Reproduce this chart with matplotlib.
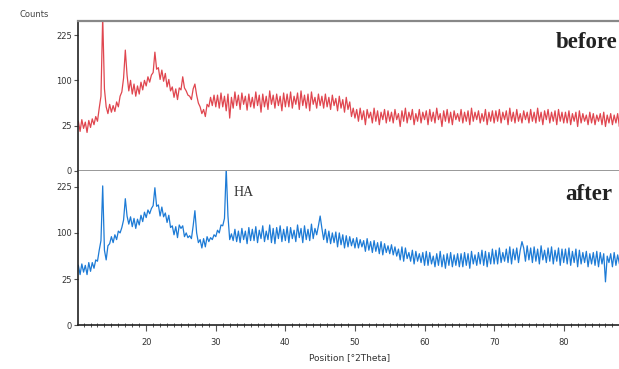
import matplotlib.pyplot as plt
import numpy as np
from matplotlib.ticker import MultipleLocator

# XRD counts, one value every 0.25 deg starting at 10.25
start_2theta = 10.25
step_2theta = 0.25

before_counts = [
    30, 19, 32, 22, 29, 18, 31, 23, 33, 26, 36, 30, 48, 68, 290, 82, 50, 40, 54, 42,
    52, 43, 58, 50, 68, 76, 105, 178, 112, 78, 100, 72, 92, 68, 88, 72, 96, 80, 100, 88,
    108, 96, 112, 118, 172, 126, 130, 102, 124, 98, 116, 86, 102, 78, 86, 66, 82, 62, 84, 80,
    108, 84, 78, 70, 68, 62, 82, 92, 70, 56, 50, 40, 46, 36, 54, 50, 66, 52, 70, 50,
    70, 48, 74, 50, 68, 44, 72, 34, 66, 48, 76, 52, 70, 46, 74, 54, 68, 45, 72, 50,
    66, 48, 76, 52, 70, 42, 72, 50, 68, 46, 78, 54, 70, 48, 72, 52, 68, 44, 74, 50,
    72, 50, 76, 48, 68, 54, 74, 46, 78, 52, 70, 48, 72, 44, 76, 54, 66, 48, 72, 52,
    68, 48, 72, 50, 66, 46, 70, 52, 64, 44, 68, 48, 62, 42, 66, 46, 58, 36, 48, 34,
    46, 30, 48, 32, 44, 26, 46, 34, 42, 28, 48, 30, 44, 26, 42, 32, 46, 28, 44, 30,
    42, 28, 46, 32, 40, 24, 44, 30, 48, 28, 42, 32, 46, 26, 40, 30, 46, 28, 42, 32,
    44, 26, 46, 30, 42, 28, 48, 32, 40, 24, 44, 30, 46, 28, 42, 26, 44, 32, 40, 30,
    46, 28, 42, 30, 44, 26, 48, 30, 42, 32, 44, 28, 40, 30, 46, 26, 42, 30, 44, 28,
    44, 30, 46, 28, 42, 32, 44, 26, 48, 30, 42, 28, 46, 30, 40, 28, 44, 32, 42, 28,
    46, 30, 42, 28, 48, 30, 42, 26, 44, 32, 46, 28, 42, 30, 44, 26, 46, 30, 42, 28,
    42, 28, 44, 26, 40, 30, 42, 24, 44, 28, 40, 30, 38, 26, 42, 28, 40, 26, 38, 30,
    40, 26, 42, 24, 38, 28, 40, 26, 38, 28, 40, 24, 38, 26, 36,
]

after_counts = [
    42, 30, 44, 33, 42, 30, 46, 34, 46, 38, 50, 48, 66, 84, 228, 66, 50, 74, 78, 92,
    80, 96, 86, 104, 100, 112, 130, 188, 140, 120, 138, 114, 134, 110, 132, 118, 142, 126, 150, 136,
    156, 146, 160, 168, 222, 166, 170, 140, 164, 138, 148, 124, 142, 112, 116, 96, 114, 90, 118, 110,
    116, 92, 100, 90, 94, 88, 116, 154, 100, 80, 86, 70, 88, 72, 92, 82, 90, 86, 96, 92,
    106, 100, 118, 116, 134, 290, 140, 86, 98, 84, 108, 82, 104, 80, 110, 86, 104, 78, 112, 84,
    108, 84, 114, 80, 106, 88, 116, 82, 104, 86, 118, 80, 110, 78, 112, 88, 116, 82, 108, 84,
    114, 80, 112, 88, 106, 82, 118, 90, 110, 80, 116, 86, 108, 84, 120, 88, 110, 96, 116, 140,
    110, 86, 108, 80, 104, 78, 100, 80, 102, 72, 100, 76, 96, 70, 94, 72, 92, 74, 88, 70,
    90, 70, 86, 72, 84, 64, 88, 66, 82, 62, 84, 64, 80, 60, 82, 58, 78, 62, 74, 60,
    76, 58, 72, 56, 68, 50, 72, 48, 70, 52, 62, 48, 66, 44, 64, 48, 60, 46, 62, 42,
    64, 42, 62, 44, 56, 40, 60, 42, 64, 40, 58, 38, 60, 42, 62, 40, 58, 42, 60, 40,
    60, 40, 62, 42, 60, 38, 64, 44, 58, 42, 62, 44, 66, 42, 64, 40, 62, 44, 68, 44,
    66, 44, 70, 46, 62, 48, 68, 46, 72, 44, 68, 50, 70, 46, 66, 82, 70, 48, 74, 50,
    70, 46, 72, 48, 68, 44, 74, 50, 66, 46, 70, 48, 72, 44, 66, 48, 70, 42, 68, 46,
    68, 44, 70, 42, 64, 46, 68, 40, 66, 44, 62, 46, 64, 40, 60, 44, 62, 42, 64, 40,
    62, 44, 60, 22, 56, 46, 60, 40, 62, 42, 58, 44, 60, 40, 58,
]

y_ticks = [0, 25, 100, 225]
x_ticks = [20, 30, 40, 50, 60, 70, 80]


def sqrt_fwd(v):
    return np.sqrt(np.clip(v, 0, None))


def sqrt_inv(v):
    return np.asarray(v) ** 2


def style_panel(ax, ymax):
    ax.set_yscale('function', functions=(sqrt_fwd, sqrt_inv))
    ax.set_xlim(10.2, 88.3)
    ax.set_ylim(0, ymax)
    ax.set_yticks(y_ticks)
    ax.tick_params(axis='y', labelsize=6, colors='#555555', length=3, width=0.8,
                   pad=1.5)
    for lab in ax.get_yticklabels():
        lab.set_color('#333333')
    ax.spines['right'].set_visible(False)
    ax.spines['left'].set_color('#222222')
    ax.spines['left'].set_linewidth(1.2)
    ax.spines['top'].set_color('#888888')
    ax.spines['top'].set_linewidth(1.6)
    ax.spines['bottom'].set_color('#888888')
    ax.spines['bottom'].set_linewidth(1.2)


fig = plt.figure(figsize=(6.19, 3.69), dpi=100)
ax_top = fig.add_axes([0.126, 0.537, 0.878, 0.406])
ax_bot = fig.add_axes([0.126, 0.119, 0.878, 0.418])

x_before = start_2theta + step_2theta * np.arange(len(before_counts))
x_after = start_2theta + step_2theta * np.arange(len(after_counts))

ax_top.plot(x_before, before_counts, color='#e0464f', lw=0.9)
ax_bot.plot(x_after, after_counts, color='#1d7bd6', lw=0.9)

style_panel(ax_top, 274)
style_panel(ax_bot, 280)

ax_top.set_xticks([])
ax_top.tick_params(axis='x', which='both', bottom=False, labelbottom=False)

ax_bot.spines['bottom'].set_color('#222222')
ax_bot.spines['top'].set_visible(False)
ax_bot.set_xticks(x_ticks)
ax_bot.xaxis.set_minor_locator(MultipleLocator(1))
ax_bot.tick_params(axis='x', which='major', labelsize=6, colors='#555555',
                   length=4, width=0.8, pad=5)
ax_bot.tick_params(axis='x', which='minor', colors='#555555', length=3,
                   width=0.7, direction='inout')
for lab in ax_bot.get_xticklabels():
    lab.set_color('#333333')
ax_bot.set_xlabel('Position [°2Theta]', fontsize=6.5, color='#333333', labelpad=5)

fig.text(0.032, 0.962, 'Counts', fontsize=6, color='#444444', va='center')

fig.text(0.897, 0.886, 'before', fontsize=16.5, fontweight='bold',
         family='Liberation Serif', va='center', color='#222222')
fig.text(0.913, 0.472, 'after', fontsize=16.5, fontweight='bold',
         family='Liberation Serif', va='center', color='#222222')
fig.text(0.378, 0.477, 'HA', fontsize=10, family='Liberation Serif',
         va='center', color='#333333')

fig.savefig('out.png', dpi=100)
